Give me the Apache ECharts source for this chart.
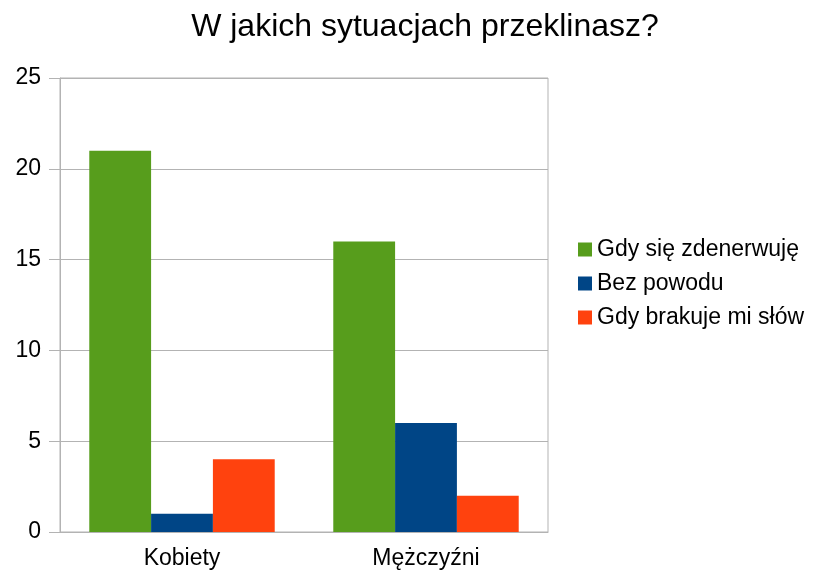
<!DOCTYPE html>
<html>
<head>
<meta charset="utf-8">
<script src="https://cdn.jsdelivr.net/npm/echarts@6/dist/echarts.min.js"></script>
<style>
  html, body { margin: 0; padding: 0; background: #fff; }
  #chart { width: 821px; height: 574px; }
</style>
</head>
<body>
<div id="chart"></div>
<script>
const categories = ["Kobiety", "Mężczyźni"]
const seriesNames = ["Gdy się zdenerwuję", "Bez powodu", "Gdy brakuje mi słów"]
const angry = [21, 16]
const noReason = [1, 6]
const noWords = [4, 2]
const colors = ["#579d1c", "#004586", "#ff420e"]

const font = "Liberation Sans, Arial, sans-serif"
const chart = echarts.init(document.getElementById("chart"))

chart.setOption({
  animation: false,
  color: colors,
  textStyle: { fontFamily: font },
  title: {
    text: "W jakich sytuacjach przeklinasz?",
    left: 420,
    textAlign: "center",
    top: 6,
    textStyle: { fontFamily: font, fontSize: 32, fontWeight: "normal", color: "#000" }
  },
  legend: {
    orient: "vertical",
    left: 573,
    top: 233,
    itemWidth: 14,
    itemHeight: 14,
    itemGap: 11,
    icon: "rect",
    textStyle: { fontFamily: font, fontSize: 23, color: "#000" },
    data: seriesNames
  },
  grid: {
    left: 60, right: 273, top: 78, bottom: 42,
    show: true, borderColor: "#b3b3b3", borderWidth: 1
  },
  xAxis: {
    type: "category",
    data: categories,
    axisLine: { lineStyle: { color: "#b3b3b3" } },
    axisTick: { length: 10, lineStyle: { color: "#b3b3b3" } },
    axisLabel: { fontFamily: font, fontSize: 23, color: "#000", margin: 15 }
  },
  yAxis: {
    type: "value",
    min: 0, max: 25, interval: 5,
    axisLine: { show: true, lineStyle: { color: "#b3b3b3" } },
    axisTick: { show: true, length: 11, lineStyle: { color: "#b3b3b3" } },
    splitLine: { lineStyle: { color: "#b3b3b3" } },
    axisLabel: { fontFamily: font, fontSize: 23, color: "#000", margin: 19 }
  },
  series: [
    { name: seriesNames[0], type: "bar", data: angry, barGap: "0%", barCategoryGap: "24%" },
    { name: seriesNames[1], type: "bar", data: noReason, barGap: "0%", barCategoryGap: "24%" },
    { name: seriesNames[2], type: "bar", data: noWords, barGap: "0%", barCategoryGap: "24%" }
  ]
})
</script>
</body>
</html>
